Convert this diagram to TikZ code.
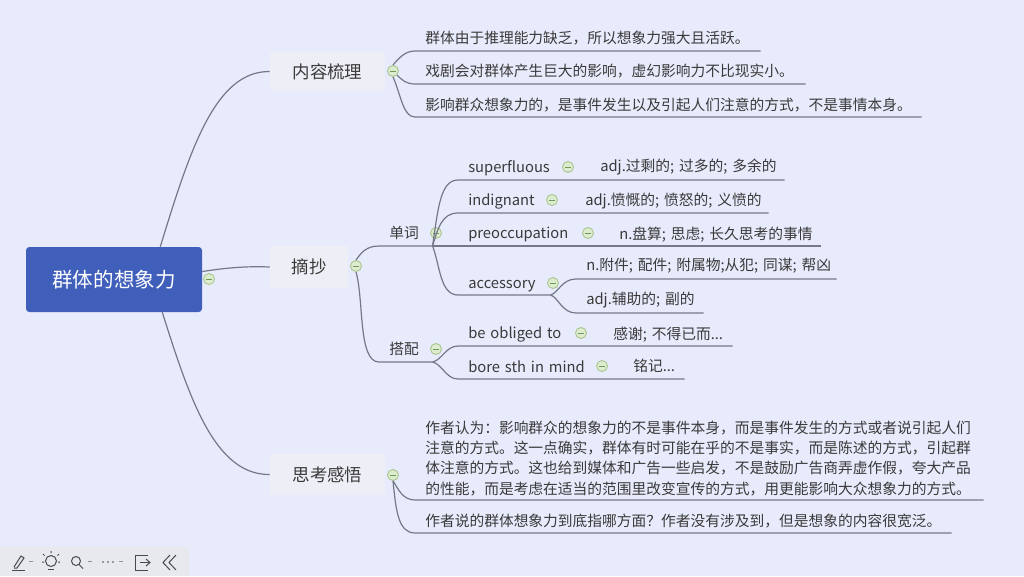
\documentclass[tikz,border=0pt]{standalone}
\usepackage{fontspec}
\setmainfont{Noto Sans CJK SC}
\definecolor{bgc}{HTML}{E8EBFC}
\definecolor{rootc}{HTML}{3F5FBB}
\definecolor{boxc}{HTML}{EEEFF6}
\definecolor{linec}{HTML}{747889}
\definecolor{textc}{HTML}{3A3A3A}
\definecolor{barc}{HTML}{E8E9EE}
\definecolor{iconc}{HTML}{4A4A4A}
\definecolor{foldb}{HTML}{A9C78F}
\definecolor{foldf}{HTML}{DDEBCF}
\definecolor{foldm}{HTML}{6E9A5C}
\newcommand\leafm[6]{%
  \pgfmathsetmacro\lw{(#3-#2-20)*0.75}%
  \node[leaf,text width=\lw pt,minimum height=#5*0.75pt] (#1) at (#2,#4) {#6};}
\newcommand\leaf[6]{\leafm{#1}{#2}{#3}{#4}{#5}{\mbox{#6}}}
\newcommand\fold[3]{\node[fold] (#1) at (#2,#3) {};\draw[foldmark] (#2-3,#3) -- (#2+3,#3);}
\tikzset{
  leaf/.style={anchor=south west,inner ysep=0pt,inner xsep=7.5pt,align=left,font=\fontsize{11.06pt}{15.2pt}\selectfont,text=textc},
  topic/.style={fill=boxc,inner sep=0pt,font=\fontsize{13.1pt}{16pt}\selectfont,text=textc},
  rootbox/.style={fill=rootc,rounded corners=2.5pt,inner sep=0pt,minimum width=132pt,minimum height=48.75pt,font=\fontsize{15.4pt}{18pt}\selectfont,text=white},
  conn/.style={draw=linec,line width=0.9pt},
  fold/.style={circle,draw=foldb,fill=foldf,line width=0.7pt,inner sep=0pt,minimum size=8.25pt},
  foldmark/.style={draw=foldm,line width=0.6pt},
  icon/.style={draw=iconc,line width=0.75pt},
  small/.style={draw=iconc!60,line width=0.5pt}
}
\begin{document}
\begin{tikzpicture}[x=0.75pt,y=-0.75pt]
\useasboundingbox (0,0) rectangle (1024,576);
\fill[bgc] (0,0) rectangle (1024,576);
% main boxes
\node[rootbox] (root) at (114,279.5) {群体的想象力};
\node[topic,minimum width=86.25pt,minimum height=29.25pt] (t1) at (327.5,71.5) {内容梳理};
\node[topic,minimum width=58.5pt,minimum height=31.5pt] (t2) at (309,267) {摘抄};
\node[topic,minimum width=86.25pt,minimum height=30.75pt] (t3) at (327.5,474.5) {思考感悟};
\fold{c0}{209}{279}
\fold{c1}{393}{71}
\fold{c2}{356}{266}
\fold{c3}{393}{475}
% topic 1
\leaf{a1}{415}{760}{51}{26}{群体由于推理能力缺乏，所以想象力强大且活跃。}
\leaf{a2}{415}{805}{84}{26}{戏剧会对群体产生巨大的影响，虚幻影响力不比现实小。}
\leaf{a3}{415}{921}{117}{24}{影响群众想象力的，是事件发生以及引起人们注意的方式，不是事情本身。}
% topic 2
\leaf{w}{379}{432}{246}{25}{单词}
\leaf{d}{379}{432}{362}{25}{搭配}
\fold{cw}{436}{233}
\fold{cd}{436}{349}
\leaf{s1}{458}{558}{180}{24}{superfluous}
\leaf{s2}{590}{784}{180}{25}{adj.过剩的; 过多的; 多余的}
\leaf{i1}{458}{543}{213}{22}{indignant}
\leaf{i2}{575}{768}{213}{24}{adj.愤慨的; 愤怒的; 义愤的}
\leaf{p1}{458}{578}{246}{23}{preoccupation}
\leaf{p2}{609}{820}{246}{23}{n.盘算; 思虑; 长久思考的事情}
\leaf{ac}{458}{550}{295}{18}{accessory}
\leaf{n1}{576}{836}{279}{26}{n.附件; 配件; 附属物;从犯; 同谋; 帮凶}
\leaf{n2}{576}{703}{313}{26}{adj.辅助的; 副的}
\leaf{b1}{458}{572}{346}{23}{be obliged to}
\leaf{b2}{603}{732}{346}{23}{感谢; 不得已而...}
\leaf{m1}{458}{592}{379}{25}{bore sth in mind}
\leaf{m2}{623}{684}{379}{26}{铭记...}
\fold{f1}{568}{167}
\fold{f2}{552}{200}
\fold{f3}{588}{233}
\fold{f4}{553}{283}
\fold{f5}{581}{333}
\fold{f6}{602}{366}
% topic 3
\leafm{g1}{415}{983}{500}{83}{作者认为：影响群众的想象力的不是事件本身，而是事件发生的方式或者说引起人们\\注意的方式。这一点确实，群体有时可能在乎的不是事实，而是陈述的方式，引起群\\体注意的方式。这也给到媒体和广告一些启发，不是鼓励广告商弄虚作假，夸大产品\\的性能，而是考虑在适当的范围里改变宣传的方式，用更能影响大众想象力的方式。}
\leaf{g2}{415}{951}{533}{24}{作者说的群体想象力到底指哪方面？作者没有涉及到，但是想象的内容很宽泛。}
% connectors
\draw[conn] ([xshift=-31.5pt]root.north east) .. controls (190,150) and (215,71) .. (t1.west);
\draw[conn] ([xshift=-30pt]root.south east) .. controls (190,400) and (215,475) .. (t3.west);
\draw[conn] ([yshift=-18.6pt]root.north east) .. controls (225,268) and (245,266) .. (t2.west);
\draw[conn] (c1.north) .. controls (399,58) and (405,51) .. (a1.south west) -- (a1.south east);
\draw[conn] (c1.south east) .. controls (402,80) and (406,84) .. (a2.south west) -- (a2.south east);
\draw[conn] (c1.south) .. controls (401,95) and (403,117) .. (a3.south west) -- (a3.south east);
\draw[conn] (c2.north) .. controls (361,253) and (366,246) .. (w.south west) -- (w.south east);
\draw[conn] (c2.south) .. controls (364,300) and (358,362) .. (d.south west) -- (d.south east);
\draw[conn] (w.south east) .. controls (438,210) and (440,180) .. (s1.south west) -- (s1.south east) -- (s2.south east);
\draw[conn] (w.south east) .. controls (438,228) and (442,213) .. (i1.south west) -- (i1.south east) -- (i2.south east);
\draw[conn] (w.south east) -- (p1.south west) -- (p1.south east) -- (p2.south east);
\draw[conn] (w.south east) .. controls (440,265) and (440,295) .. (ac.south west) -- (ac.south east);
\draw[conn] (ac.south east) .. controls (558,293) and (562,279) .. (n1.south west) -- (n1.south east);
\draw[conn] (ac.south east) .. controls (558,297) and (562,313) .. (n2.south west) -- (n2.south east);
\draw[conn] (d.south east) .. controls (442,360) and (446,346) .. (b1.south west) -- (b1.south east) -- (b2.south east);
\draw[conn] (d.south east) .. controls (442,364) and (446,379) .. (m1.south west) -- (m1.south east) -- (m2.south east);
\draw[conn] (c3.south) .. controls (398,488) and (402,500) .. (g1.south west) -- (g1.south east);
\draw[conn] (c3.south) .. controls (396,510) and (398,533) .. (g2.south west) -- (g2.south east);
% toolbar
\fill[barc] (0,547) rectangle (189,576);
\draw[icon] (14,567) -- (21,556) -- (24,558) -- (17,568) -- (14,568);
\draw[icon] (12,570.5) -- (25,570.5);
\draw[small] (29,561.5) -- (33,561.5);
\draw[icon] (51,561) circle [radius=5.5];
\draw[icon] (48,569.5) -- (54,569.5);
\draw[icon] (51,551) -- (51,553) (43,554) -- (44.5,555.5) (59,554) -- (57.5,555.5) (42,562) -- (44,562) (60,562) -- (58,562);
\draw[icon] (76,561) circle [radius=4.5];
\draw[icon] (79,564.5) -- (83,568.5);
\draw[small] (88,561.5) -- (92,561.5);
\fill[iconc] (103,562) circle [radius=0.9] (108,562) circle [radius=0.9] (113,562) circle [radius=0.9];
\draw[small] (119,561.5) -- (123,561.5);
\draw[icon] (148,555) -- (135,555) -- (135,570) -- (148,570);
\draw[icon] (140,562.5) -- (150,562.5);
\draw[icon] (146,559) -- (150,562.5) -- (146,566);
\draw[icon] (170,555) -- (163,562.5) -- (170,570);
\draw[icon] (176,555) -- (169,562.5) -- (176,570);
\end{tikzpicture}
\end{document}
